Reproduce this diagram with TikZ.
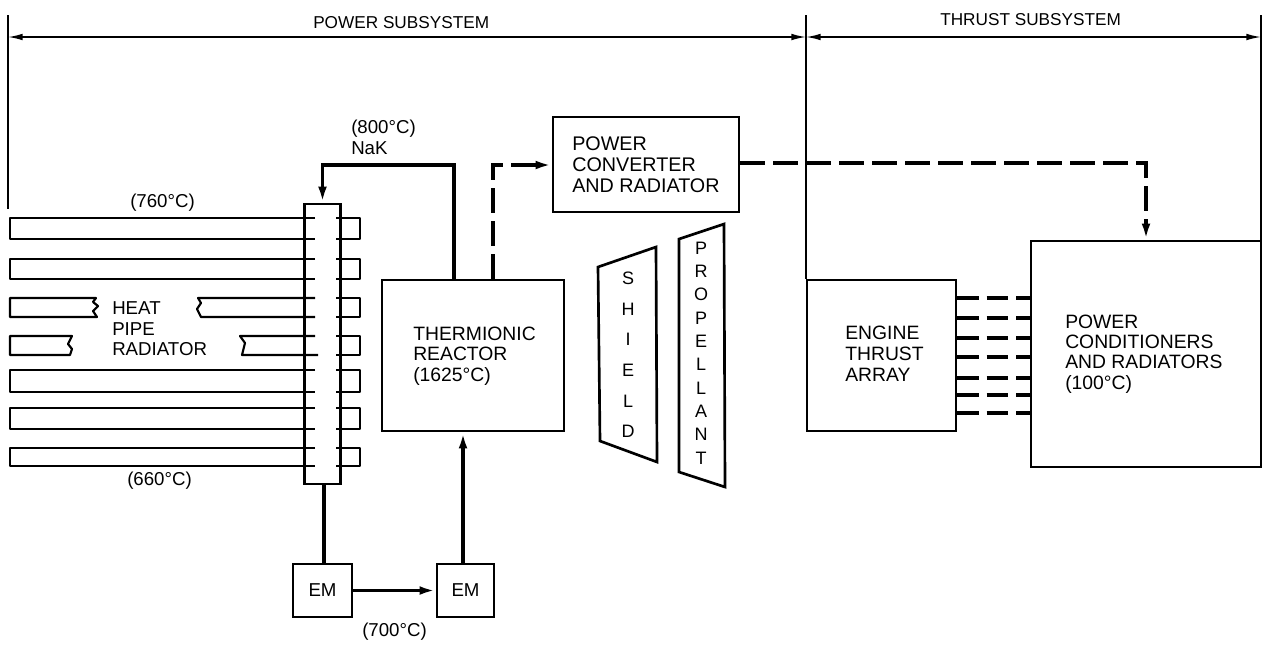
\documentclass[tikz,border=0pt]{standalone}
\usepackage{fontspec}
\setmainfont{Liberation Sans}
\usetikzlibrary{arrows.meta}
\def\px{0.75pt}
\tikzset{
  every node/.style={font=\fontsize{14}{17}\selectfont},
  box/.style={draw=black,line width=2pt,fill=white,inner sep=0pt},
  pipe/.style={draw=black,line width=1.6pt,line join=round},
  flow/.style={draw=black,line width=2.4pt,-{Latex[length=12pt,width=6.5pt]}},
  flowline/.style={draw=black,line width=2.4pt},
  power/.style={draw=black,line width=2.4pt,dash pattern=on 18.75pt off 6pt,-{Latex[length=12pt,width=6.5pt]}},
  tie/.style={draw=black,line width=2.4pt,dash pattern=on 16pt off 6pt},
  span/.style={draw=black,line width=1.2pt,{Latex[length=11pt,width=5pt]}-{Latex[length=11pt,width=5pt]}},
  rule/.style={draw=black,line width=1.4pt},
  lab/.style={anchor=west,align=left,inner sep=0pt},
  toplabel/.style={anchor=west,inner sep=0pt,font=\fontsize{12.9}{15}\selectfont},
  vert/.style={inner sep=0pt,align=center}
}
\newcommand{\finpath}[2]{%
  \draw[pipe] (315,#1) -- (10,#1) -- (10,#2) -- (315,#2);
  \draw[pipe] (336,#1) -- (360,#1) -- (360,#2) -- (336,#2);}
\begin{document}
\begin{tikzpicture}[x=0.75pt,y=-0.75pt]
\useasboundingbox (0,0) rectangle (1266,647);
\fill[white] (0,0) rectangle (1266,647);
% header rules
\coordinate (ruleA) at (8,15);
\coordinate (ruleAend) at (8,209);
\coordinate (ruleB) at (806,15);
\coordinate (ruleC) at (1261,15);
\coordinate (spanA) at (8,37);
\coordinate (spanB) at (806,37);
\coordinate (spanC) at (1261,37);
% boxes
\node[box,minimum width=182*\px,minimum height=151*\px] (reactor) at (473,355.5) {};
\node[box,minimum width=186*\px,minimum height=95*\px] (converter) at (646,164.5) {};
\node[box,minimum width=149*\px,minimum height=151*\px] (engine) at (881.5,355.5) {};
\node[box,minimum width=230*\px,minimum height=226*\px] (cond) at (1146,354) {};
\node[box,minimum width=59*\px,minimum height=53*\px] (em1) at (322.5,590.5) {EM};
\node[box,minimum width=57*\px,minimum height=53*\px] (em2) at (465.5,590.5) {EM};
\draw[rule] (ruleA) -- (ruleAend);
\draw[rule] (ruleB) -- (ruleB |- engine.north);
\draw[rule] (ruleC) -- (ruleC |- cond.north);
\draw[span] (spanA) -- (spanB);
\draw[span] (spanB) -- (spanC);
\node[toplabel] (powerlab) at (313,23) {POWER SUBSYSTEM};
\node[toplabel] (thrustlab) at (940,20) {THRUST SUBSYSTEM};
% fins
\finpath{218}{239}
\finpath{259}{279}
\finpath{370}{392}
\finpath{408}{429}
\finpath{448}{466}
\draw[pipe] (96,298) -- (10,298) -- (10,317) -- (97,317) -- (93,311) -- (98,306) -- (93,302) -- cycle;
\draw[pipe] (315,298) -- (198,298) -- (201,303) -- (197,309) -- (201,317) -- (315,317);
\draw[pipe] (336,298) -- (360,298) -- (360,317) -- (336,317);
\draw[pipe] (72,336) -- (10,336) -- (10,355) -- (70,355) -- (72,349) -- (68,344) -- cycle;
\draw[pipe] (315,336) -- (240,336) -- (245,343) -- (242,355) -- (318,355);
\draw[pipe] (336,336) -- (360,336) -- (360,355) -- (336,355);
\node[draw=black,line width=2pt,inner sep=0pt,minimum width=36*\px,minimum height=280*\px] (tube) at (322.5,344) {};
% radiator labels
\node[lab] (t760) at (130,203) {(760°C)};
\node[lab] (t660) at (127,481) {(660°C)};
\node[lab,font=\fontsize{14}{15.4}\selectfont] (hp) at (112,329) {HEAT\\PIPE\\RADIATOR};
% reactor and loop
\node[lab,font=\fontsize{14.5}{15.4}\selectfont] (rt) at (413,356) {THERMIONIC\\REACTOR\\(1625°C)};
\coordinate (nakTurn) at (454,165);
\draw[flow] (reactor.north -| nakTurn) -- (nakTurn) -- (nakTurn -| tube.north) -- (tube.north);
\node[lab,font=\fontsize{14}{15.75}\selectfont] (nak) at (351,137.5) {(800°C)\\NaK};
\coordinate (pwrTurn) at (493,165);
\draw[power] (reactor.north -| pwrTurn) -- (pwrTurn) -- (pwrTurn -| converter.west);
\node[lab,font=\fontsize{14.8}{15.75}\selectfont] (ct) at (572,165) {POWER\\CONVERTER\\AND RADIATOR};
\coordinate (condTurn) at (1146,163);
\draw[power] (converter.east |- condTurn) -- (condTurn) -- (cond.north -| condTurn);
% EM loop
\coordinate (tubeDrop) at (324,500);
\draw[flowline] (tube.south -| tubeDrop) -- (em1.north -| tubeDrop);
\draw[flow] (em1.east) -- (em2.west);
\coordinate (emUp) at (463,500);
\draw[flow] (em2.north -| emUp) -- (reactor.south -| emUp);
\node[lab] (t700) at (362,632) {(700°C)};
% shield, propellant
\draw[box] (598,267) -- (656,247) -- (657,462) -- (600,441) -- cycle;
\node[vert,font=\fontsize{13.5}{23}\selectfont] (sh) at (628,355) {S\\H\\I\\E\\L\\D};
\draw[box] (679,239) -- (724,224) -- (725,487) -- (679,472) -- cycle;
\node[vert,font=\fontsize{13.5}{17.5}\selectfont] (pr) at (701,353) {P\\R\\O\\P\\E\\L\\L\\A\\N\\T};
% engine and conditioners
\node[lab,font=\fontsize{14.5}{15.75}\selectfont] (et) at (845,354) {ENGINE\\THRUST\\ARRAY};
\node[lab,font=\fontsize{14.5}{15.3}\selectfont] (pt) at (1065,354) {POWER\\CONDITIONERS\\AND RADIATORS\\(100°C)};
\foreach \yy in {298,318,338,357,378,395,413}{
  \coordinate (ty) at (0,\yy);
  \draw[tie] (engine.east |- ty) -- (cond.west |- ty);
}
\end{tikzpicture}
\end{document}
